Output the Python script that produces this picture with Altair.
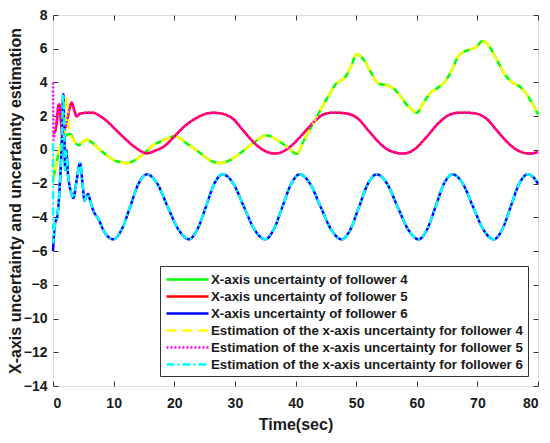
import altair as alt
import pandas as pd

names = [
    "X-axis uncertainty of follower 4",
    "X-axis uncertainty of follower 5",
    "X-axis uncertainty of follower 6",
    "Estimation of the x-axis uncertainty for follower 4",
    "Estimation of the x-axis uncertainty for follower 5",
    "Estimation of the x-axis uncertainty for follower 6",
]
colors = ["#00ff00", "#ff0000", "#0000ff", "#ffff00", "#ff00ff", "#00ffff"]
dashes = [[1, 0], [1, 0], [1, 0], [10, 6], [2, 2], [8, 3, 2, 3]]

x_ticks = [0, 10, 20, 30, 40, 50, 60, 70, 80]
y_ticks = [-14, -12, -10, -8, -6, -4, -2, 0, 2, 4, 6, 8]

# follower 4 (green)
t4 = [0, 0.6, 1.15, 1.7, 2.3, 2.8, 3.5, 4.2, 5.0, 5.55, 6.5, 7.75, 8.9, 9.95, 11.0, 12.15,
      13.3, 14.35, 15.5, 16.55, 17.7, 18.75, 20.1, 21.0, 22.05, 23.2, 24.25, 25.9, 27.55,
      29.2, 30.85, 33.0, 35.25, 37.45, 39.0, 40.2, 41.3, 42.4, 43.5, 44.6, 45.6, 46.5, 47.4,
      48.2, 49.2, 50.1, 51.2, 52.3, 53.4, 54.3, 55.05, 56.15, 57.3, 58.35, 59.2, 60.0, 61.1,
      62.2, 63.3, 64.4, 65.6, 66.9, 67.8, 68.8, 69.9, 70.75, 71.55, 72.3, 73.2, 74.85, 76.0,
      77.05, 78.5, 80]
v4 = [-1.8, -0.78, 0.18, 0.6, 0.9, 0.95, 0.55, 0.28, 0.5, 0.6, 0.42, 0.0, -0.33, -0.59, -0.72,
      -0.78, -0.65, -0.39, -0.05, 0.28, 0.5, 0.66, 0.82, 0.68, 0.38, 0.1, -0.18, -0.62, -0.78,
      -0.6, -0.2, 0.4, 0.86, 0.47, 0.08, -0.24, 0.5, 1.24, 1.95, 2.68, 3.3, 3.84, 4.1, 4.32,
      5.0, 5.67, 5.38, 4.7, 4.03, 3.88, 3.84, 3.65, 3.2, 2.68, 2.4, 2.2, 2.8, 3.36, 3.65, 3.94,
      4.6, 5.57, 5.82, 5.96, 6.12, 6.44, 6.34, 5.95, 5.35, 4.32, 3.95, 3.74, 3.1, 2.1]

# follower 5 (red)
t5 = [0, 0.3, 0.6, 0.88, 1.05, 1.27, 1.6, 2.0, 2.4, 2.75, 3.1, 3.5, 3.9, 4.45, 5.5, 6.6, 7.7,
      8.85, 10.2, 11.6, 12.7, 13.8, 15.45, 16.8, 18.2, 19.9, 21.5, 23.0, 24.25, 25.3, 26.45,
      27.9, 29.75, 31.4, 33.05, 34.7, 36.6, 38.55, 40.75, 42.95, 44.6, 46.0, 47.1, 48.6, 50.4,
      52.05, 53.7, 55.35, 57.8, 59.6, 61.6, 63.7, 65.5, 66.9, 68.3, 69.8, 71.6, 73.25, 74.9,
      76.55, 78.7, 80]
v5 = [1.0, 1.05, 1.6, 2.6, 2.7, 1.8, 0.8, 1.3, 1.9, 2.5, 2.8, 2.35, 2.0, 2.15, 2.2, 2.2, 2.02,
      1.72, 1.25, 0.76, 0.4, 0.09, -0.2, -0.05, 0.18, 0.75, 1.34, 1.75, 2.0, 2.15, 2.2,
      2.15, 1.82, 1.14, 0.47, -0.01, -0.22, 0.03, 0.76, 1.63, 2.1, 2.2, 2.2, 2.15, 1.82,
      1.14, 0.47, -0.01, -0.22, 0.03, 0.76, 1.63, 2.1, 2.2, 2.2, 2.15, 1.82, 1.14, 0.47,
      -0.01, -0.22, -0.12]

# follower 6 (blue)
t6 = [0, 0.33, 0.7, 1.15, 1.45, 1.7, 1.85, 2.0, 2.15, 2.5, 2.9, 3.35, 3.9, 4.45, 4.85, 5.2,
      5.5, 5.8, 6.2, 6.65, 7.5, 8.3, 9.1, 9.95, 11.35, 12.7, 14.1, 15.5, 17.2, 18.95, 20.7,
      22.4, 23.8, 25.2, 26.6, 28.0, 29.75, 31.5, 33.25, 35.0, 36.4, 37.85, 39.3, 40.7, 42.4,
      44.15, 45.9, 47.6, 49.05, 50.5, 51.95, 53.4, 55.1, 56.85, 58.6, 60.3, 61.7, 63.1, 64.5,
      65.9, 67.6, 69.3, 71.0, 72.7, 74.1, 75.5, 76.9, 78.3, 79.3, 80]
v6 = [-6.0, -4.4, -3.95, -1.93, 0.5, 3.3, 1.5, -1.17, 0.0, -1.55, -2.4, -2.85, -1.8, -0.78,
      -1.9, -3.0, -2.75, -2.62, -3.1, -3.6, -4.1, -4.75, -5.15, -5.3, -4.7, -3.4, -2.0, -1.45,
      -2.0, -3.4, -4.72, -5.3, -4.72, -3.4, -2.0, -1.45, -2.0, -3.38, -4.73, -5.3, -4.72,
      -3.37, -2.0, -1.45, -2.0, -3.38, -4.73, -5.3, -4.72, -3.36, -2.0, -1.45, -2.0, -3.38,
      -4.73, -5.3, -4.72, -3.37, -2.0, -1.45, -2.0, -3.38, -4.73, -5.3, -4.72, -3.36, -2.0,
      -1.45, -1.65, -2.0]

# estimation start-up transients (afterwards they follow the actual curves)
e4_head_t = [0, 0.05, 0.6, 1.15, 1.7, 2.05, 2.35, 2.6]
e4_head_v = [-0.5, -1.8, -0.78, 0.18, 0.6, 1.2, 3.1, 1.3]
e5_head_t = [0, 0.08]
e5_head_v = [4.0, 0.6]
e6_head_t = [0, 0.05]
e6_head_v = [0.4, -5.5]

rows = []


def add(name, kind, ts, vs):
    for t, v in zip(ts, vs):
        rows.append({"series": name, "kind": kind, "t": t, "v": v})


add(names[0], "a", t4, v4)
add(names[1], "a", t5, v5)
add(names[2], "a", t6, v6)
add(names[3], "e", e4_head_t + [t for t in t4 if t > 2.7],
    e4_head_v + [v for t, v in zip(t4, v4) if t > 2.7])
add(names[4], "e", e5_head_t + [t for t in t5 if t > 0.2],
    e5_head_v + [v for t, v in zip(t5, v5) if t > 0.2])
add(names[5], "e", e6_head_t + [t for t in t6 if t > 0.2],
    e6_head_v + [v for t, v in zip(t6, v6) if t > 0.2])
df = pd.DataFrame(rows)

FONT = "Liberation Sans"
FRAME = "#333333"
TXT = "#1a1a1a"

xscale = alt.Scale(domain=[0, 80], nice=False, zero=False)
yscale = alt.Scale(domain=[-14, 8], nice=False, zero=False)

color = alt.Color(
    "series:N",
    scale=alt.Scale(domain=names, range=colors),
    legend=alt.Legend(
        title=None, orient="bottom-right", offset=10, fillColor="white",
        strokeColor=FRAME, padding=5, labelFont=FONT, labelFontSize=13.3,
        labelFontWeight="bold", labelColor=TXT, symbolType="M-3,0H3",
        symbolSize=196, symbolStrokeWidth=2.5, rowPadding=2, labelOffset=15,
        symbolOffset=14, labelLimit=400,
    ),
)
dash = alt.StrokeDash("series:N", scale=alt.Scale(domain=names, range=dashes))

actual = alt.Chart(df).transform_filter(alt.datum.kind == "a").mark_line(
    strokeWidth=2.5, interpolate="monotone"
).encode(
    x=alt.X("t:Q", scale=xscale, axis=alt.Axis(
        orient="bottom", values=x_ticks, domain=False, grid=False, tickSize=5, offset=-5,
        tickColor=FRAME, labelPadding=10, labelFont=FONT, labelFontSize=14,
        labelFontWeight="bold", labelColor=TXT, title="Time(sec)", titleFont=FONT,
        titleFontSize=16, titleFontWeight="bold", titleColor=TXT, titlePadding=6)),
    y=alt.Y("v:Q", scale=yscale, axis=alt.Axis(
        orient="left", values=y_ticks, domain=False, grid=False, tickSize=5, offset=-5,
        tickColor=FRAME, labelPadding=6, labelFont=FONT, labelFontSize=14,
        labelFontWeight="bold", labelColor=TXT,
        title="X-axis uncertainty and uncertainty estimation", titleFont=FONT,
        titleFontSize=16, titleFontWeight="bold", titleColor=TXT, titlePadding=0)),
    color=color,
    strokeDash=dash,
    detail="series:N",
)

est = alt.Chart(df).transform_filter(alt.datum.kind == "e").mark_line(
    strokeWidth=2.5, interpolate="monotone"
).encode(
    x=alt.X("t:Q", scale=xscale, axis=alt.Axis(
        orient="top", values=x_ticks, domain=False, grid=False, tickSize=5, offset=-5,
        tickColor=FRAME, labels=False, title=None)),
    y=alt.Y("v:Q", scale=yscale, axis=alt.Axis(
        orient="right", values=y_ticks, domain=False, grid=False, tickSize=5, offset=-5,
        tickColor=FRAME, labels=False, title=None)),
    color=color,
    strokeDash=dash,
    detail="series:N",
)

chart = alt.layer(actual, est).resolve_axis(x="independent", y="independent").properties(
    width=485, height=371,
    autosize=alt.AutoSizeParams(type="none"),
    padding={"left": 45, "top": 7, "right": 4, "bottom": 47},
).configure_view(stroke=FRAME, strokeWidth=1).configure(background="white")

chart.save("out.html", embed_options={"renderer": "svg", "actions": False})
